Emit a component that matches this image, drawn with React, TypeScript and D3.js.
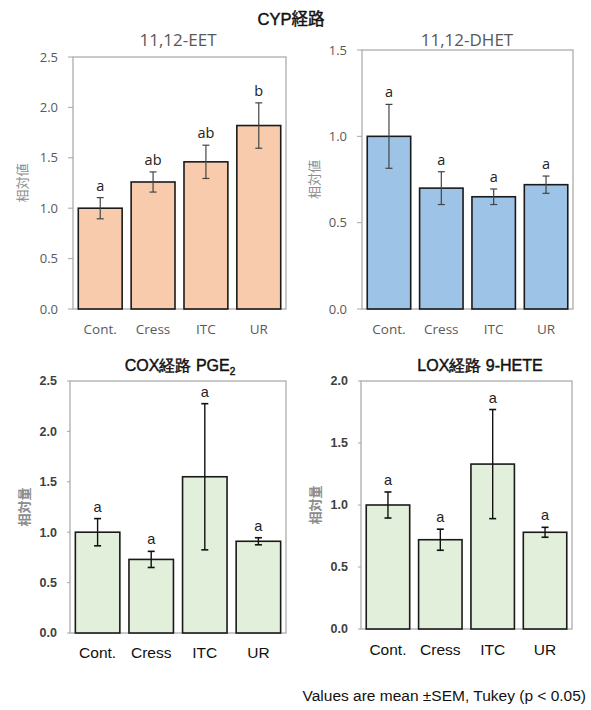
import React from "react";
import * as d3 from "d3";

const categories = ["Cont.", "Cress", "ITC", "UR"];

const eetMean = [1.0, 1.26, 1.46, 1.82];
const eetSem = [0.105, 0.1, 0.165, 0.225];
const eetLetters = ["a", "ab", "ab", "b"];

const dhetMean = [1.0, 0.7, 0.65, 0.72];
const dhetSem = [0.185, 0.095, 0.045, 0.05];
const dhetLetters = ["a", "a", "a", "a"];

const pgeMean = [1.0, 0.73, 1.55, 0.91];
const pgeSem = [0.135, 0.08, 0.725, 0.035];
const pgeLetters = ["a", "a", "a", "a"];

const heteMean = [1.0, 0.72, 1.33, 0.78];
const heteSem = [0.105, 0.085, 0.44, 0.04];
const heteLetters = ["a", "a", "a", "a"];

const eetTicks = [0, 0.5, 1.0, 1.5, 2.0, 2.5];
const dhetTicks = [0, 0.5, 1.0, 1.5];
const pgeTicks = [0, 0.5, 1.0, 1.5, 2.0, 2.5];
const heteTicks = [0, 0.5, 1.0, 1.5, 2.0];

type PanelProps = {
  x0: number; x1: number; yTop: number; yBot: number;
  ticks: number[]; means: number[]; sems: number[]; letters: string[];
  fill: string; title: React.ReactNode; titleX: number; titleY: number;
  yLabel: string; yLabelX: number; modern: boolean; xLabelY: number;
};

function Panel(p: PanelProps) {
  const x = d3.scaleBand().domain(categories).range([p.x0, p.x1]).paddingInner(0.17).paddingOuter(0.1);
  const y = d3.scaleLinear().domain([0, d3.max(p.ticks)!]).range([p.yBot, p.yTop]);
  const font = p.modern ? "Liberation Sans, Arial, sans-serif" : "Open Sans, Noto Sans, sans-serif";
  const tickColor = p.modern ? "#404040" : "#595959";
  const frame = "#a6a6a6";
  const errColor = p.modern ? "#111" : "#444";
  return (
    <g>
      <rect x={p.x0} y={p.yTop} width={p.x1 - p.x0} height={p.yBot - p.yTop} fill="none" stroke={frame} strokeWidth={1.2} />
      {p.ticks.map((t) => (
        <g key={t}>
          <line x1={p.x0 - (p.modern ? 3 : 5)} x2={p.x0} y1={y(t)} y2={y(t)} stroke={frame} strokeWidth={1} />
          <text x={p.x0 - (p.modern ? 13 : 15)} y={y(t)} dy="0.35em" textAnchor="end" fontFamily={font}
            fontSize={p.modern ? 12.5 : 13} fontWeight={p.modern ? "bold" : "normal"} fill={tickColor}>
            {t.toFixed(1)}
          </text>
        </g>
      ))}
      {categories.map((c, i) => {
        const bx = x(c)!;
        const cx = bx + x.bandwidth() / 2;
        const top = y(p.means[i] + p.sems[i]);
        const bot = y(p.means[i] - p.sems[i]);
        return (
          <g key={c}>
            <rect x={bx} y={y(p.means[i])} width={x.bandwidth()} height={p.yBot - y(p.means[i])}
              fill={p.fill} stroke="#1a1a1a" strokeWidth={1.6} />
            <line x1={cx} x2={cx} y1={top} y2={bot} stroke={errColor} strokeWidth={p.modern ? 1.4 : 1.2} />
            <line x1={cx - 3.5} x2={cx + 3.5} y1={top} y2={top} stroke={errColor} strokeWidth={p.modern ? 1.6 : 1.2} />
            <line x1={cx - 3.5} x2={cx + 3.5} y1={bot} y2={bot} stroke={errColor} strokeWidth={p.modern ? 1.6 : 1.2} />
            <text x={cx} y={top - 7} textAnchor="middle" fontFamily={font} fontSize={14.5} fill="#222">
              {p.letters[i]}
            </text>
            <text x={cx} y={p.xLabelY} textAnchor="middle" fontFamily={font}
              fontSize={p.modern ? 15.5 : 13.5} fill={p.modern ? "#111" : "#595959"}>
              {c}
            </text>
          </g>
        );
      })}
      <text x={p.titleX} y={p.titleY} textAnchor="middle" fontFamily={font}
        fontSize={p.modern ? 16 : 17} fill={p.modern ? "#111" : "#595959"}
        stroke={p.modern ? "#111" : "none"} strokeWidth={p.modern ? 0.45 : 0}>
        {p.title}
      </text>
      <text transform={`translate(${p.yLabelX},${(p.yTop + p.yBot) / 2}) rotate(-90)`} textAnchor="middle"
        dy="0.35em" fontFamily="Noto Sans CJK JP, sans-serif" fontSize={13}
        fontWeight={p.modern ? "bold" : "normal"} fill="#8c8c8c">
        {p.yLabel}
      </text>
    </g>
  );
}

export default function App() {
  return (
    <svg width={591} height={710} style={{ position: "absolute", left: 0, top: 0, background: "#fff" }}>
      <rect width={591} height={710} fill="#fff" />
      <text x={291} y={25} textAnchor="middle" fontFamily="Liberation Sans, Noto Sans CJK JP, sans-serif"
        fontSize={16.5} fill="#111" stroke="#111" strokeWidth={0.45}>CYP経路</text>
      <Panel x0={73} x1={286} yTop={57} yBot={309} ticks={eetTicks} means={eetMean} sems={eetSem}
        letters={eetLetters} fill="#F8CBAD" title="11,12-EET" titleX={178} titleY={46}
        yLabel="相対値" yLabelX={22} modern={false} xLabelY={334} />
      <Panel x0={362} x1={573} yTop={50} yBot={309} ticks={dhetTicks} means={dhetMean} sems={dhetSem}
        letters={dhetLetters} fill="#9DC3E6" title="11,12-DHET" titleX={467} titleY={46}
        yLabel="相対値" yLabelX={314} modern={false} xLabelY={334} />
      <Panel x0={70} x1={286} yTop={381} yBot={633} ticks={pgeTicks} means={pgeMean} sems={pgeSem}
        letters={pgeLetters} fill="#E2EFDA"
        title={<>COX経路 PGE<tspan fontSize={10} dy={4}>2</tspan></>} titleX={180} titleY={371}
        yLabel="相対量" yLabelX={24} modern={true} xLabelY={658} />
      <Panel x0={361} x1={572} yTop={381} yBot={629} ticks={heteTicks} means={heteMean} sems={heteSem}
        letters={heteLetters} fill="#E2EFDA" title="LOX経路 9-HETE" titleX={480} titleY={371}
        yLabel="相対量" yLabelX={315} modern={true} xLabelY={655} />
      <text x={586} y={701} textAnchor="end" fontFamily="Liberation Sans, Arial, sans-serif" fontSize={15.5} fill="#111">
        Values are mean ±SEM, Tukey (p &lt; 0.05)
      </text>
    </svg>
  );
}
